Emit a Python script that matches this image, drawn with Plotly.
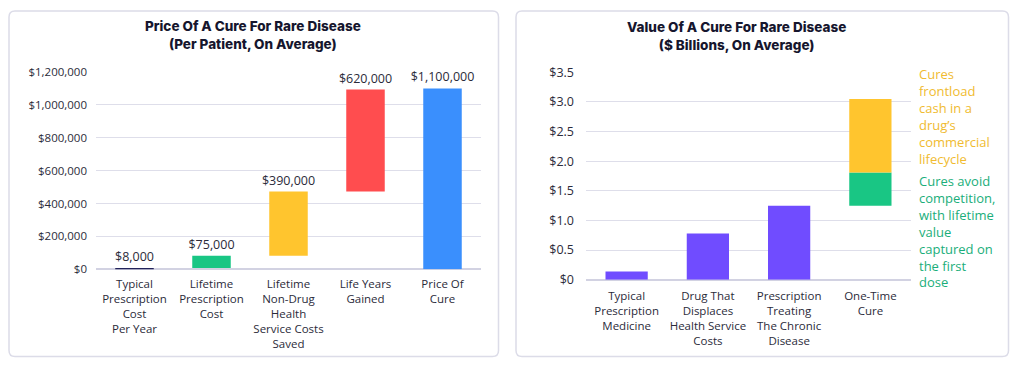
import plotly.graph_objects as go

# page body has an 8px margin; figure is sized so it fits the 1024x370 window
OFF = 8
W, H = 1024 - OFF, 370 - OFF

# ---------------- data ----------------
price_categories = [
    "Typical<br>Prescription<br>Cost<br>Per Year",
    "Lifetime<br>Prescription<br>Cost",
    "Lifetime<br>Non-Drug<br>Health<br>Service Costs<br>Saved",
    "Life Years<br>Gained",
    "Price Of<br>Cure",
]
price_values = [8000, 75000, 390000, 620000, 1100000]
price_labels = ["$8,000", "$75,000", "$390,000", "$620,000", "$1,100,000"]
price_colors = ["#22235a", "#19c684", "#ffc52e", "#ff4d4f", "#3a8ffd"]
price_is_total = [False, False, False, False, True]
price_ticks = [0, 200000, 400000, 600000, 800000, 1000000, 1200000]

value_categories = [
    "Typical<br>Prescription<br>Medicine",
    "Drug That<br>Displaces<br>Health Service<br>Costs",
    "Prescription<br>Treating<br>The Chronic<br>Disease",
    "One-Time<br>Cure",
]
value_purple = [0.14, 0.78, 1.25, None]
cure_competition = 0.56   # green segment (on top of chronic prescription value)
cure_frontload = 1.24     # yellow segment
value_ticks = [0, 0.5, 1.0, 1.5, 2.0, 2.5, 3.0, 3.5]
value_ticktext = ["$0", "$0.5", "$1.0", "$1.5", "$2.0", "$2.5", "$3.0", "$3.5"]

note_frontload = "Cures<br>frontload<br>cash in a<br>drug\u2019s<br>commercial<br>lifecycle"
note_competition = "Cures avoid<br>competition,<br>with lifetime<br>value<br>captured on<br>the first<br>dose"

# ---------------- helpers (window pixel -> paper fraction) ----------------
def px_x(p):
    return (p - OFF) / W

def px_y(p):
    return (H - (p - OFF)) / H

FONT = "Open Sans"
TXT = "#2b2b3a"
GRID = "#dedeea"

# waterfall bases
bases = []
running = 0
for v, tot in zip(price_values, price_is_total):
    if tot:
        bases.append(0)
    else:
        bases.append(running)
        running += v

fig = go.Figure()

fig.add_trace(go.Bar(
    x=price_categories, y=price_values, base=bases,
    marker=dict(color=price_colors, line=dict(width=0)),
    width=0.5,
    text=price_labels, textposition="outside", cliponaxis=False,
    constraintext="none",
    textfont=dict(family=FONT, size=12.5, color=TXT),
    xaxis="x", yaxis="y", showlegend=False, hoverinfo="skip",
))

cure_cat = value_categories[-1]
chronic_value = value_purple[2]
fig.add_trace(go.Bar(
    x=value_categories, y=value_purple,
    marker=dict(color="#704cff", line=dict(width=0)), width=0.52,
    xaxis="x2", yaxis="y2", showlegend=False, hoverinfo="skip",
))
fig.add_trace(go.Bar(
    x=[cure_cat], y=[cure_competition], base=[chronic_value],
    marker=dict(color="#19c684", line=dict(width=0)), width=0.52,
    xaxis="x2", yaxis="y2", showlegend=False, hoverinfo="skip",
))
fig.add_trace(go.Bar(
    x=[cure_cat], y=[cure_frontload], base=[chronic_value + cure_competition],
    marker=dict(color="#ffc52e", line=dict(width=0)), width=0.52,
    xaxis="x2", yaxis="y2", showlegend=False, hoverinfo="skip",
))

tickfont = dict(family=FONT, size=11.5, color=TXT)

fig.update_layout(
    width=W, height=H,
    margin=dict(l=0, r=0, t=0, b=0, pad=0, autoexpand=False),
    paper_bgcolor="white", plot_bgcolor="white",
    barmode="overlay",
    xaxis=dict(domain=[px_x(96), px_x(481)], tickfont=tickfont, showgrid=False,
               showline=False, ticks="", automargin=False, ticklabelstandoff=6),
    yaxis=dict(domain=[px_y(269.3), px_y(72)], range=[0, 1200000],
               tickvals=price_ticks, tickformat="$,.0f",
               tickfont=tickfont, gridcolor=GRID, gridwidth=1.2,
               zeroline=True, zerolinecolor="#d2d2e2", zerolinewidth=1.5,
               showline=False, ticklabelstandoff=8, automargin=False),
    xaxis2=dict(domain=[px_x(586), px_x(911)], tickfont=tickfont, showgrid=False,
                showline=False, ticks="", anchor="y2", automargin=False,
                ticklabelstandoff=8),
    yaxis2=dict(domain=[px_y(279.7), px_y(72.3)], range=[0, 3.5], anchor="x2",
                tickvals=value_ticks, ticktext=value_ticktext,
                tickfont=dict(family=FONT, size=12.5, color=TXT),
                gridcolor=GRID, gridwidth=1.2,
                zeroline=True, zerolinecolor="#d2d2e2", zerolinewidth=1.5,
                showline=False, ticklabelstandoff=11, automargin=False),
)

# card borders (rounded rectangles in paper coords)
def rounded(x0, y0, x1, y1, r=6):
    X = px_x
    Y = px_y
    return (f"M {X(x0+r)} {Y(y0)} L {X(x1-r)} {Y(y0)} Q {X(x1)} {Y(y0)} {X(x1)} {Y(y0+r)} "
            f"L {X(x1)} {Y(y1-r)} Q {X(x1)} {Y(y1)} {X(x1-r)} {Y(y1)} "
            f"L {X(x0+r)} {Y(y1)} Q {X(x0)} {Y(y1)} {X(x0)} {Y(y1-r)} "
            f"L {X(x0)} {Y(y0+r)} Q {X(x0)} {Y(y0)} {X(x0+r)} {Y(y0)} Z")

for (a, b, c, d) in [(9, 11, 498.5, 356.5), (516, 11, 1008.5, 356.5)]:
    fig.add_shape(type="path", path=rounded(a, b, c, d), xref="paper", yref="paper",
                  line=dict(color="#dcdce8", width=1.5), fillcolor="rgba(0,0,0,0)", layer="below")

title_font = dict(family="Inter", size=13.5, color="#16162e", weight=800)
fig.add_annotation(text="Price Of A Cure For Rare Disease<br>(Per Patient, On Average)",
                   x=px_x(252.5), y=px_y(35), xref="paper", yref="paper",
                   xanchor="center", yanchor="middle",
                   showarrow=False, font=title_font, align="center")
fig.add_annotation(text="Value Of A Cure For Rare Disease<br>($ Billions, On Average)",
                   x=px_x(736), y=px_y(36), xref="paper", yref="paper",
                   xanchor="center", yanchor="middle",
                   showarrow=False, font=title_font, align="center")

fig.add_annotation(text=note_frontload, x=px_x(917), y=px_y(63), xref="paper", yref="paper",
                   xanchor="left", yanchor="top", align="left", showarrow=False,
                   font=dict(family=FONT, size=13, color="#f0bb30"))
fig.add_annotation(text=note_competition, x=px_x(917), y=px_y(170), xref="paper", yref="paper",
                   xanchor="left", yanchor="top", align="left", showarrow=False,
                   font=dict(family=FONT, size=13, color="#1aae7a"))

fig.write_html("out.html")
